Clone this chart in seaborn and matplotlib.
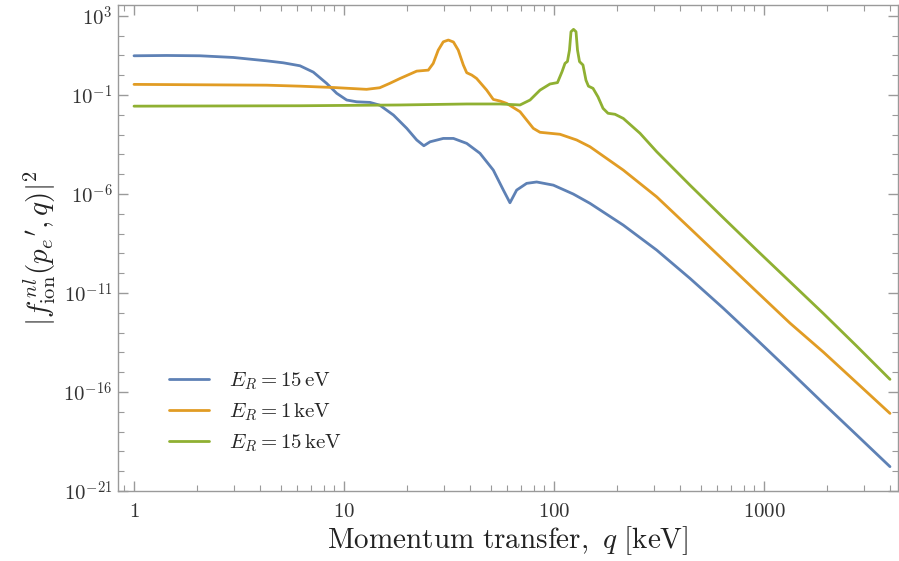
import numpy as np
import pandas as pd
import matplotlib
matplotlib.use("Agg")
import matplotlib.pyplot as plt
import matplotlib.ticker as mticker
import seaborn as sns

# ---- data (q in keV, log10 |f|^2) ----
q_15eV = [1.0, 1.43, 2.06, 2.97, 4.28, 5.14, 6.17, 7.14, 8.27, 9.23, 10.3, 11.5, 13.3,
          14.8, 17.2, 19.9, 22.2, 24.0, 25.7, 29.7, 33.2, 38.4, 44.4, 51.4, 57.4, 61.7,
          66.4, 74.1, 82.7, 99.3, 123.6, 148.4, 213.8, 308.3, 444.2, 640.3, 923.2,
          1330, 1916, 2763, 3981]
log_15eV = [0.985, 1.0, 0.985, 0.90, 0.73, 0.63, 0.48, 0.16, -0.41, -0.91, -1.25, -1.34, -1.37,
            -1.51, -2.01, -2.68, -3.27, -3.56, -3.36, -3.19, -3.19, -3.44, -3.94, -4.79, -5.80, -6.44,
            -5.80, -5.46, -5.39, -5.55, -6.00, -6.47, -7.57, -8.83, -10.26, -11.77, -13.35,
            -14.95, -16.57, -18.17, -19.77]

q_1keV = [1.0, 4.28, 6.17, 9.0, 12.8, 14.8, 16.5, 18.5, 22.2, 25.2, 26.6, 28.1, 29.7, 31.4,
          33.2, 35.0, 37.0, 38.4, 40.6, 42.8, 47.8, 51.4, 55.3, 59.5, 68.9, 79.7, 85.8,
          106.8, 128.3, 148.4, 213.8, 308.3, 444.2, 640.3, 923.2, 1330, 1916, 2763, 3981]
log_1keV = [-0.46, -0.50, -0.55, -0.62, -0.71, -0.63, -0.41, -0.16, 0.21, 0.26, 0.60, 1.27, 1.69, 1.78,
            1.68, 1.27, 0.52, 0.13, 0.01, -0.16, -0.75, -1.22, -1.30, -1.42, -1.84, -2.68, -2.88,
            -2.98, -3.27, -3.61, -4.79, -6.14, -7.73, -9.33, -10.93, -12.52, -13.98, -15.53, -17.08]

q_15keV = [1.0, 6.17, 18.5, 38.4, 55.3, 68.9, 76.9, 85.8, 95.7, 103.9, 109.2, 112.8, 115.9,
           118.5, 120.5, 123.9, 127.3, 129.4, 132.3, 137.4, 142.0, 145.9, 153.4, 162.0, 171.2,
           180.8, 195.2, 213.8, 256.8, 308.3, 444.2, 640.3, 923.2, 1330, 1916, 2763, 3981]
log_15keV = [-1.56, -1.54, -1.50, -1.45, -1.45, -1.50, -1.25, -0.75, -0.44, -0.37, 0.18, 0.60, 0.70,
             1.27, 2.20, 2.32, 2.20, 1.27, 0.69, 0.52, -0.25, -0.55, -0.66, -1.09, -1.67,
             -1.92, -1.97, -2.18, -2.93, -3.86, -5.55, -7.20, -8.83, -10.43, -12.03, -13.68, -15.36]

labels = [r"$E_R = 15\,\mathrm{eV}$", r"$E_R = 1\,\mathrm{keV}$", r"$E_R = 15\,\mathrm{keV}$"]
colors = ["#5E81B5", "#E19C24", "#8FB032"]

x_major = [1, 10, 100, 1000]
y_major_exp = [3, -1, -6, -11, -16, -21]

frames = []
for lab, q, lg in zip(labels, [q_15eV, q_1keV, q_15keV], [log_15eV, log_1keV, log_15keV]):
    frames.append(pd.DataFrame({"q": q, "f": 10.0 ** np.array(lg), "series": lab}))
df = pd.concat(frames, ignore_index=True)

# ---- style ----
sns.set_style("ticks")
plt.rcParams["mathtext.fontset"] = "cm"
plt.rcParams["font.family"] = ["DejaVu Serif"]

fig = plt.figure(figsize=(8.99, 5.61), dpi=100)
ax = fig.add_axes([118 / 899, 70 / 561, 780 / 899, 486 / 561])

sns.lineplot(data=df, x="q", y="f", hue="series", palette=colors, hue_order=labels,
             estimator=None, sort=False, linewidth=2.0, ax=ax)
for ln in ax.get_lines():
    ln.set_solid_joinstyle("round")

ax.set_xscale("log")
ax.set_yscale("log")
ax.set_xlim(0.839, 4347)
ax.set_ylim(1e-21, 10 ** 3.55)

frame_col = "#9a9a9a"
for s in ax.spines.values():
    s.set_color(frame_col)
    s.set_linewidth(1.0)

ax.xaxis.set_major_locator(mticker.FixedLocator(x_major))
ax.xaxis.set_minor_locator(mticker.LogLocator(base=10, subs=np.arange(2, 10), numticks=20))
ax.xaxis.set_major_formatter(mticker.FuncFormatter(lambda v, p: r"$%d$" % round(v)))
ax.xaxis.set_minor_formatter(mticker.NullFormatter())

ax.yaxis.set_major_locator(mticker.FixedLocator([10.0 ** e for e in y_major_exp]))
ax.yaxis.set_minor_locator(mticker.FixedLocator([10.0 ** e for e in range(-21, 4)]))
ax.yaxis.set_major_formatter(mticker.FuncFormatter(
    lambda v, p: r"$10^{%d}$" % round(np.log10(v))))
ax.yaxis.set_minor_formatter(mticker.NullFormatter())

ax.tick_params(which="both", direction="in", top=True, right=True, color=frame_col,
               labelsize=15, labelcolor="#333333")
ax.tick_params(which="major", length=7, width=1.0)
ax.tick_params(which="minor", length=4, width=0.8)
ax.tick_params(axis="x", which="major", pad=8)
ax.tick_params(axis="y", which="major", pad=4)

ax.set_xlabel(r"$\mathrm{Momentum\ transfer,}\ q\ [\mathrm{keV}]$", fontsize=21, color="#222222",
              labelpad=2)
ax.set_ylabel(r"$|f^{\,nl}_{\mathrm{ion}}(p_e{}',q)|^2$", fontsize=21, color="#222222", labelpad=4)

leg = ax.legend(loc="upper left", bbox_to_anchor=(0.055, 0.265), frameon=False, fontsize=15,
                handlelength=1.9, handletextpad=0.95, labelspacing=0.45, borderaxespad=0)
for h in leg.get_lines():
    h.set_linewidth(2.0)

fig.savefig("out.png", dpi=100)
